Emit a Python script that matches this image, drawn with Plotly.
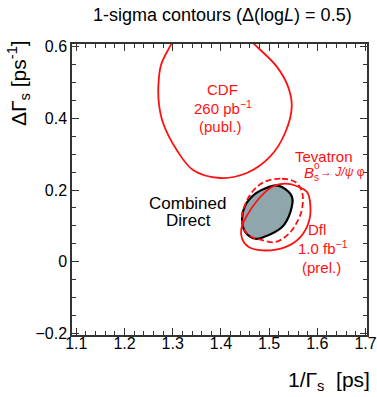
import plotly.graph_objects as go

# CDF 260 pb^-1 contour (clipped at top)
cdf_x = [1.3068, 1.2959, 1.2757, 1.2701, 1.2716, 1.2799, 1.3083, 1.3421, 1.3981,
         1.4535, 1.5019, 1.5330, 1.5469, 1.5392, 1.5158, 1.4707, 1.4500]
cdf_y = [0.6324, 0.6045, 0.5487, 0.4881, 0.4371, 0.3869, 0.3116, 0.2558, 0.2335,
         0.2474, 0.2929, 0.3590, 0.4324, 0.4881, 0.5439, 0.6045, 0.6324]

# Combined direct contour
comb_x = [1.4992, 1.5129, 1.5268, 1.5475, 1.5440, 1.5268, 1.4888, 1.4714, 1.4506,
          1.4438, 1.4506, 1.4714, 1.4992]
comb_y = [0.2084, 0.2131, 0.2084, 0.1805, 0.1386, 0.0968, 0.0689, 0.0642, 0.0828,
          0.1199, 0.1573, 0.1897, 0.2084]

# DØ 1.0 fb^-1 contour
d0_x = [1.5060, 1.5336, 1.5614, 1.5786, 1.5855, 1.5822, 1.5647, 1.5336, 1.4853,
        1.4577, 1.4438, 1.4423, 1.4542, 1.4784, 1.5060]
d0_y = [0.2084, 0.2176, 0.2084, 0.1944, 0.1573, 0.1107, 0.0689, 0.0410, 0.0318,
        0.0410, 0.0642, 0.0921, 0.1294, 0.1757, 0.2084]

# Tevatron Bs -> J/psi phi contour (dashed)
tev_x = [1.4992, 1.5268, 1.5544, 1.5683, 1.5683, 1.5579, 1.5407, 1.5129, 1.4853,
         1.4604, 1.4473, 1.4438, 1.4577, 1.4784, 1.4992]
tev_y = [0.2271, 0.2315, 0.2223, 0.1944, 0.1478, 0.1107, 0.0781, 0.0550, 0.0605,
         0.0717, 0.0921, 0.1294, 0.1805, 0.2131, 0.2271]

x_ticks = [1.1, 1.2, 1.3, 1.4, 1.5, 1.6, 1.7]
y_ticks = [-0.2, 0, 0.2, 0.4, 0.6]

RED = "#ff1010"
FONT = "Liberation Sans, Arial, Helvetica, sans-serif"

fig = go.Figure()
fig.add_trace(go.Scatter(x=comb_x, y=comb_y, mode="lines", fill="toself",
                         fillcolor="#8fa6ad", line=dict(color="black", width=2.2, shape="spline"),
                         hoverinfo="skip"))
fig.add_trace(go.Scatter(x=cdf_x, y=cdf_y, mode="lines",
                         line=dict(color=RED, width=1.8, shape="spline"), hoverinfo="skip"))
fig.add_trace(go.Scatter(x=d0_x, y=d0_y, mode="lines",
                         line=dict(color=RED, width=1.8, shape="spline"), hoverinfo="skip"))
fig.add_trace(go.Scatter(x=tev_x, y=tev_y, mode="lines",
                         line=dict(color=RED, width=1.8, shape="spline", dash="6px,3px"),
                         hoverinfo="skip"))

def txt(x, y, s, color=RED, size=15, xanchor="center"):
    fig.add_annotation(x=x, y=y, xref="x", yref="y", text=s, showarrow=False,
                       font=dict(color=color, size=size, family=FONT),
                       xanchor=xanchor, yanchor="middle")

txt(1.4023, 0.479, "CDF")
txt(1.4044, 0.4287, "260 pb<sup>−1</sup>")
txt(1.3981, 0.3757, "(publ.)")
txt(1.6139, 0.2921, "Tevatron")
txt(1.5683, 0.2502, "<i>B</i>", xanchor="left")
txt(1.5880, 0.2680, "o", size=10, xanchor="left")
txt(1.5880, 0.2360, "s", size=10, xanchor="left")
txt(1.6010, 0.2502, "→ <i>J/ψ</i> φ", size=12, xanchor="left")
txt(1.5988, 0.0912, "Dfl")
txt(1.6118, 0.041, "1.0 fb<sup>−1</sup>")
txt(1.6091, -0.0148, "(prel.)")
txt(1.3307, 0.1637, "Combined", color="black", size=17)
txt(1.3317, 0.1163, "Direct", color="black", size=17)

# title and axis titles
fig.add_annotation(x=0.510, y=1.0997, xref="paper", yref="paper", showarrow=False,
                   text="1-sigma contours (Δ(log<i>L</i>) = 0.5)",
                   font=dict(size=18, color="black", family=FONT),
                   xanchor="center", yanchor="middle")
fig.add_annotation(x=1.0169, y=-0.158, xref="paper", yref="paper", showarrow=False,
                   text="1/Γ<sub>s</sub>\u00a0\u00a0[ps]",
                   font=dict(size=21, color="black", family=FONT),
                   xanchor="right", yanchor="middle")
fig.add_annotation(x=-0.183, y=1.0206, xref="paper", yref="paper", showarrow=False,
                   text="ΔΓ<sub>s</sub> [ps<sup>-1</sup>]", textangle=-90,
                   font=dict(size=21, color="black", family=FONT),
                   xanchor="center", yanchor="top")

axis_common = dict(showgrid=False, zeroline=False, showline=True, linecolor="#333",
                   linewidth=1.5, mirror="allticks", ticks="inside", tickcolor="#333",
                   tickwidth=1.2, automargin=False, ticklabeloverflow="allow",
                   tickfont=dict(size=16, color="black", family=FONT))
fig.update_xaxes(range=[1.091, 1.703], tickvals=x_ticks,
                 ticktext=[f"{v:.1f}" for v in x_ticks], ticklen=7,
                 ticklabelstandoff=-7,
                 minor=dict(dtick=0.02, tick0=1.1, ticklen=4, ticks="inside",
                            tickcolor="#333", tickwidth=1),
                 **axis_common)
fig.update_yaxes(range=[-0.204, 0.607], tickvals=y_ticks,
                 ticktext=["−0.2", "0", "0.2", "0.4", "0.6"], ticklen=7,
                 minor=dict(dtick=0.05, tick0=0, ticklen=4, ticks="inside",
                            tickcolor="#333", tickwidth=1),
                 **axis_common)
fig.update_layout(width=377, height=397, showlegend=False,
                  margin=dict(l=72, r=10, t=44, b=62, autoexpand=False),
                  plot_bgcolor="white", paper_bgcolor="white",
                  font=dict(family=FONT))
fig.write_html("out.html", config={"displayModeBar": False},
               post_script="document.body.style.margin='0';document.body.style.overflow='hidden';")
